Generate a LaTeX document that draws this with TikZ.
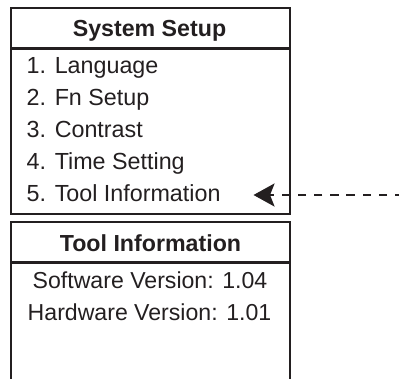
\documentclass[tikz,border=0pt]{standalone}
\usepackage{fontspec}
\setmainfont{Liberation Sans}
\usetikzlibrary{arrows.meta}
\definecolor{ink}{RGB}{35,31,32}
\tikzset{
  frame/.style={draw=ink, line width=1.8pt},
  sep/.style={draw=ink, line width=3pt},
  title/.style={inner sep=0pt, anchor=base, font=\fontsize{23.2}{26}\selectfont\bfseries, text=ink},
  item/.style={inner sep=0pt, anchor=base west, font=\fontsize{23.3}{26}\selectfont, text=ink},
  info/.style={inner sep=0pt, anchor=base, font=\fontsize{23.1}{26}\selectfont, text=ink},
  pointer/.style={draw=ink, line width=2.4pt, dash pattern=on 8.3pt off 7.9pt, dash phase=4.3pt,
    -{Stealth[length=21pt, width=23pt, inset=4.5pt]}}
}
\begin{document}
\begin{tikzpicture}[x=1pt,y=-1pt]
\useasboundingbox (0,0) rectangle (406,379);
% top box
\draw[frame] (11,8) rectangle (290,214);
\draw[sep] (11,49) -- (290,49);
\node[title] (t1) at (149.5,36.7) {System Setup};
\node[item] (i1) at (26.5,74) {1. Language};
\node[item] (i2) at (26.5,106) {2. Fn Setup};
\node[item] (i3) at (26.5,138) {3. Contrast};
\node[item] (i4) at (26.5,170) {4. Time Setting};
\node[item] (i5) at (26.5,201.7) {5. Tool Information};
% bottom box
\draw[frame] (11,382) -- (11,222) -- (290,222) -- (290,382);
\draw[sep] (11,262.5) -- (290,262.5);
\node[title] (t2) at (150.5,251.7) {Tool Information};
\node[info] (s1) at (150,288.3) {Software Version: 1.04};
\node[info] (s2) at (149.5,320) {Hardware Version: 1.01};
% pointer
\coordinate (src) at (399,195);
\coordinate (tip) at (253.5,195);
\draw[pointer] (src) -- (tip);
\end{tikzpicture}
\end{document}
